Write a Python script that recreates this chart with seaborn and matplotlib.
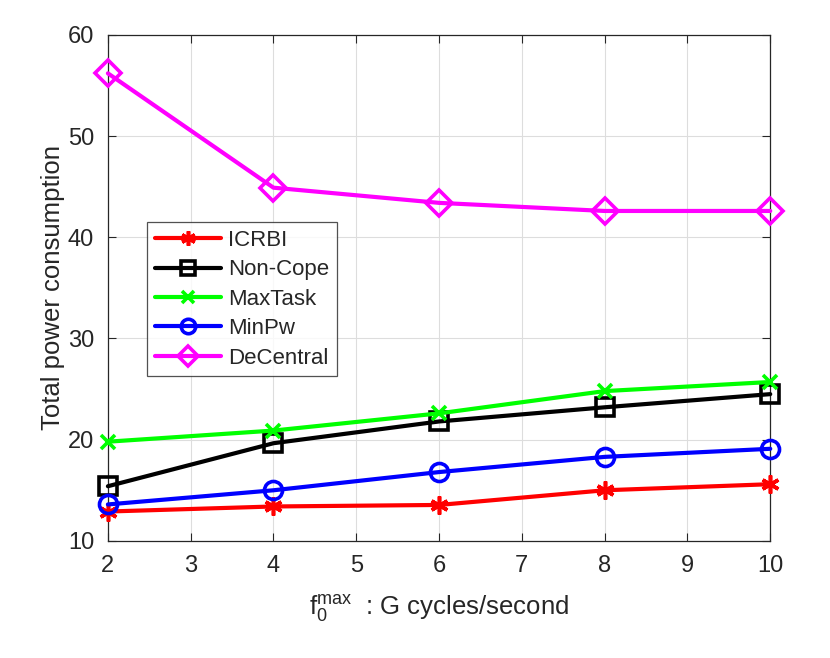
import matplotlib
matplotlib.use("Agg")
import matplotlib.pyplot as plt
import seaborn as sns
import pandas as pd

# data
freq = [2, 4, 6, 8, 10]
icrbi = [12.9, 13.4, 13.55, 15.0, 15.6]
non_cope = [15.4, 19.65, 21.8, 23.2, 24.5]
max_task = [19.8, 20.9, 22.6, 24.8, 25.7]
min_pw = [13.6, 15.0, 16.8, 18.3, 19.1]
de_central = [56.2, 44.9, 43.4, 42.6, 42.6]

series = [
    ("ICRBI", icrbi, "#ff0000", (6, 2, 0), True),
    ("Non-Cope", non_cope, "#000000", "s", False),
    ("MaxTask", max_task, "#00ff00", "x", True),
    ("MinPw", min_pw, "#0000ff", "o", False),
    ("DeCentral", de_central, "#ff00ff", "D", False),
]

sns.set_style("white")
plt.rcParams["font.family"] = ["Liberation Sans", "DejaVu Sans"]
plt.rcParams["mathtext.fontset"] = "custom"
plt.rcParams["mathtext.rm"] = "Liberation Sans"
plt.rcParams["mathtext.it"] = "Liberation Sans"

fig = plt.figure(figsize=(8.3, 6.58), dpi=100)
ax = fig.add_axes([0.130, 0.178, 0.798, 0.769])

for name, vals, col, mk, filled in series:
    df = pd.DataFrame({"f": freq, "p": vals})
    sns.lineplot(data=df, x="f", y="p", ax=ax, color=col, linewidth=3,
                 marker=mk, markersize=13 if mk != "x" else 10,
                 markeredgewidth=2.6,
                 markerfacecolor=col if filled else "none",
                 markeredgecolor=col, label=name, clip_on=False, zorder=3)

ax.set_xlim(2, 10)
ax.set_ylim(10, 60)
ax.set_xticks(range(2, 11))
ax.set_yticks(range(10, 61, 10))
ax.grid(True, color="#dddddd", linewidth=0.8)
for s in ax.spines.values():
    s.set_color("#262626")
    s.set_linewidth(0.9)
ax.tick_params(direction="in", length=6, width=0.8, colors="#262626",
               labelsize=17, pad=10, top=True, right=True, bottom=True, left=True)
for lab in ax.get_xticklabels() + ax.get_yticklabels():
    lab.set_color("#262626")

ax.set_xlabel(r"$\mathrm{f}_0^{\mathrm{max}}$  : G cycles/second", fontsize=18.5,
              color="#262626", labelpad=12)
ax.set_ylabel("Total power consumption", fontsize=18.5, color="#262626", labelpad=2)

leg = ax.legend(loc="upper left", bbox_to_anchor=(0.059, 0.63), fontsize=16,
                frameon=True, fancybox=False, handlelength=3.0, borderpad=0.35,
                labelspacing=0.38, handletextpad=0.3, borderaxespad=0,
                markerscale=0.8)
leg.get_frame().set_edgecolor("#262626")
leg.get_frame().set_linewidth(0.9)

fig.savefig("out.png", dpi=100)
